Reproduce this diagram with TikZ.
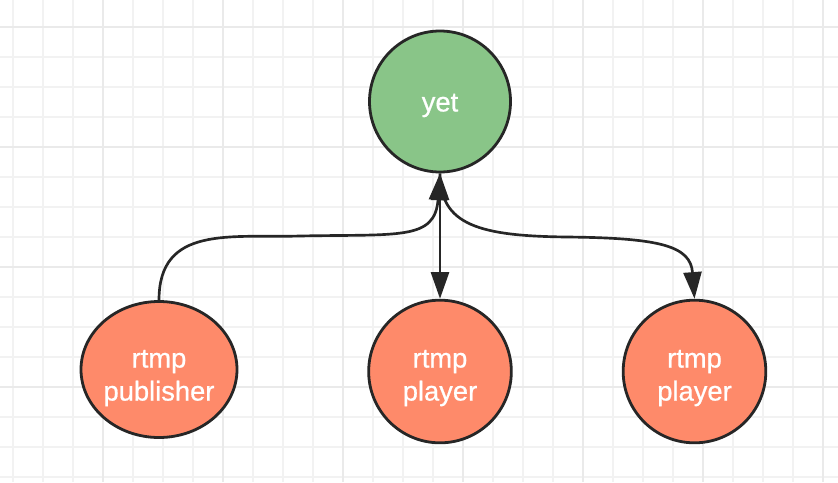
\documentclass[tikz,border=0pt]{standalone}
\usepackage{fontspec}
\setmainfont{Liberation Sans}
\newfontfamily\lblfont{Liberation Sans}[FakeBold=0.7]
\usetikzlibrary{arrows.meta,shapes.geometric,calc}
\definecolor{gridminor}{RGB}{242,242,242}
\definecolor{gridmajor}{RGB}{234,234,234}
\definecolor{nodegreen}{RGB}{137,197,136}
\definecolor{nodesalmon}{RGB}{254,138,106}
\definecolor{ink}{RGB}{38,38,38}
\begin{document}
\begin{tikzpicture}[x=0.75pt,y=-0.75pt,
  gridline/.style={draw=gridminor,line width=1.1pt},
  gridbold/.style={draw=gridmajor,line width=1.1pt},
  ball/.style={circle,draw=ink,line width=2.1pt,inner sep=0pt},
  ballgreen/.style={ball,fill=nodegreen,minimum size=105.75pt},
  ballsalmon/.style={ball,fill=nodesalmon,minimum size=107pt},
  ovalsalmon/.style={ellipse,draw=ink,line width=2.1pt,inner sep=0pt,fill=nodesalmon,minimum width=117pt,minimum height=102pt},
  lbl/.style={text=white,align=center,inner sep=0pt,font=\lblfont\fontsize{20.5}{24.75}\selectfont},
  conn/.style={draw=ink,line width=2pt},
  tip/.tip={Triangle[length=20pt,width=13.5pt]}
]
\useasboundingbox (0,0) rectangle (838,482);
\fill[white] (0,0) rectangle (838,482);
\foreach \gx in {13,43,...,823} \draw[gridline] (\gx,0) -- (\gx,482);
\foreach \gy in {27,57,...,477} \draw[gridline] (0,\gy) -- (838,\gy);
\foreach \gx in {103,223,...,823} \draw[gridbold] (\gx,0) -- (\gx,482);
\foreach \gy in {27,147,...,387} \draw[gridbold] (0,\gy) -- (838,\gy);

\node[ballgreen] (yet) at (440,101.5) {};
\node[ovalsalmon] (pub) at (159,369.5) {};
\node[ballsalmon] (p1) at (440,371.5) {};
\node[ballsalmon] (p2) at (694.5,371.5) {};

\node[lbl] (yetlbl) at ([yshift=-3pt]yet.center) {yet};
\node[lbl] (publbl) at ([yshift=-6.4pt]pub.center) {rtmp\\publisher};
\node[lbl] (p1lbl) at ([yshift=-4.9pt]p1.center) {rtmp\\player};
\node[lbl] (p2lbl) at ([yshift=-4.9pt]p2.center) {rtmp\\player};

\coordinate (lm) at (300,236);
\coordinate (rm) at (567,237);

\draw[conn,-tip] (pub.north) .. controls +(0,-75) and +(-70,2) .. (lm)
   .. controls +(100,-2) and +(-5,67) .. (yet.south);
\draw[conn,tip-tip] (yet.south) -- (p1.north);
\draw[conn,-tip] (yet.south) .. controls +(0,52) and +(-87,-1) .. (rm)
   .. controls +(93,1) and +(-4,-53) .. (p2.north);
\end{tikzpicture}
\end{document}
